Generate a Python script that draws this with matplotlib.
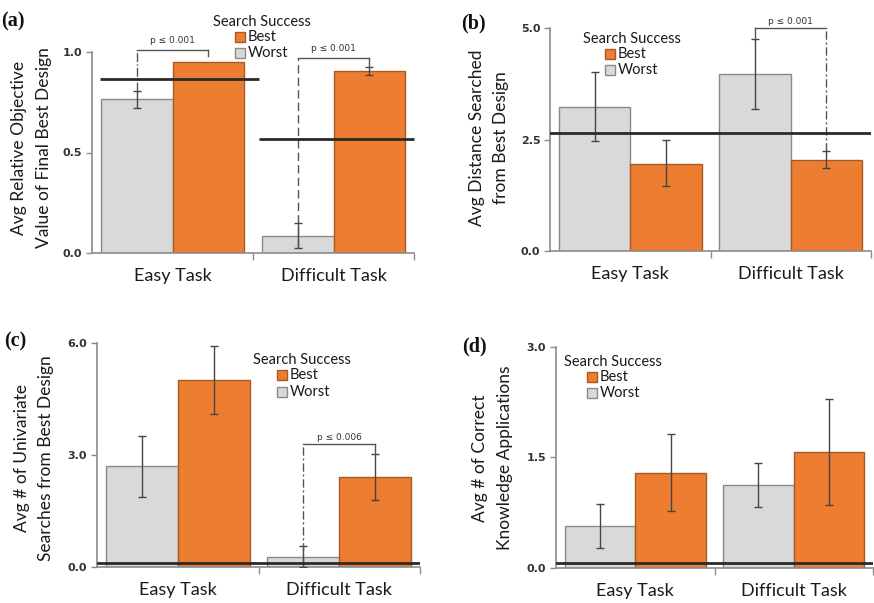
import matplotlib
matplotlib.use("Agg")
import matplotlib.pyplot as plt
from matplotlib.patches import Rectangle
import numpy as np

plt.rcParams['font.family'] = ['Lato', 'DejaVu Sans']

categories = ["Easy Task", "Difficult Task"]
series = ["Best", "Worst"]

# (a) Avg relative objective value of final best design
a_worst = [0.765, 0.086]
a_worst_lo = [0.723, 0.023]
a_worst_hi = [0.806, 0.148]
a_best = [0.952, 0.905]
a_best_lo = [0.952, 0.884]
a_best_hi = [0.952, 0.927]
a_ref = [0.866, 0.566]

# (b) Avg distance searched from best design
b_worst = [3.24, 3.97]
b_worst_lo = [2.47, 3.18]
b_worst_hi = [4.02, 4.77]
b_best = [1.96, 2.05]
b_best_lo = [1.45, 1.87]
b_best_hi = [2.49, 2.24]
b_ref = 2.64

# (c) Avg # of univariate searches from best design
c_worst = [2.71, 0.27]
c_worst_lo = [1.88, 0.0]
c_worst_hi = [3.50, 0.56]
c_best = [5.00, 2.41]
c_best_lo = [4.09, 1.80]
c_best_hi = [5.91, 3.02]
c_ref = 0.09

# (d) Avg # of correct knowledge applications
d_worst = [0.57, 1.12]
d_worst_lo = [0.27, 0.83]
d_worst_hi = [0.87, 1.42]
d_best = [1.29, 1.57]
d_best_lo = [0.77, 0.85]
d_best_hi = [1.81, 2.29]
d_ref = 0.06

W, H = 874, 603
fig = plt.figure(figsize=(W / 100, H / 100), dpi=100)

def axbox(l, r, t, b):
    return [l / W, (H - b) / H, (r - l) / W, (b - t) / H]

GRAY_FILL = '#d9d9d9'
GRAY_EDGE = '#8a8a8a'
ORANGE = '#ed7d31'
ORANGE_EDGE = '#a85a22'
ERR = '#454545'
SPINE = '#8c8c8c'
REF = '#2a2a2a'
TXT = '#1a1a1a'

bw = 0.445
centers = np.array([0.5, 1.5])


def draw_err(ax, x, v, lo, hi):
    v = np.array(v); lo = np.array(lo); hi = np.array(hi)
    keep = (hi - lo) > 0
    if keep.any():
        ax.errorbar(np.array(x)[keep], v[keep], yerr=[(v - lo)[keep], (hi - v)[keep]],
                    fmt='none', ecolor=ERR, elinewidth=1.0, capsize=3, capthick=1.0, zorder=4)


def make_panel(box, worst, wlo, whi, best, blo, bhi, ymax, yticks, ticklabels):
    ax = fig.add_axes(axbox(*box))
    ax.set_xlim(0, 2)
    ax.set_ylim(0, ymax)
    xw = centers - bw / 2
    xb = centers + bw / 2
    ax.bar(xw, worst, bw, color=GRAY_FILL, edgecolor=GRAY_EDGE, linewidth=1.0, zorder=2)
    ax.bar(xb, best, bw, color=ORANGE, edgecolor=ORANGE_EDGE, linewidth=1.0, zorder=2)
    draw_err(ax, xw, worst, wlo, whi)
    draw_err(ax, xb, best, blo, bhi)
    for s in ['top', 'right']:
        ax.spines[s].set_visible(False)
    for s in ['left', 'bottom']:
        ax.spines[s].set_color(SPINE)
        ax.spines[s].set_linewidth(1.2)
    ax.set_yticks(yticks)
    ax.set_yticklabels(ticklabels, fontsize=8, fontweight='bold', color='#333333',
                       family='DejaVu Sans')
    ax.tick_params(axis='y', length=4, color=SPINE, width=1.0, pad=3)
    ax.set_xticks([1.0, 2.0])
    ax.set_xticklabels([])
    ax.set_xticks(centers, minor=True)
    ax.set_xticklabels(categories, minor=True, fontsize=13, color=TXT)
    ax.tick_params(axis='x', which='major', length=5, color=SPINE, width=1.0, direction='out')
    ax.tick_params(axis='x', which='minor', length=0, pad=11)
    ax.patch.set_alpha(0)
    return ax


def legend(title_left, title_y, patch_x, best_y, worst_y):
    fig.text(title_left / W, 1 - title_y / H, "Search Success", fontsize=10.5,
             ha='left', va='center', color=TXT)
    for y, c, e, lab in [(best_y, ORANGE, ORANGE_EDGE, "Best"), (worst_y, GRAY_FILL, GRAY_EDGE, "Worst")]:
        fig.patches.append(Rectangle((patch_x / W, 1 - (y + 5) / H), 10 / W, 10 / H,
                                     transform=fig.transFigure, facecolor=c, edgecolor=e,
                                     linewidth=1.0))
        fig.text((patch_x + 13) / W, 1 - y / H, lab, fontsize=10.5, ha='left', va='center',
                 color=TXT)


def bracket(ax, xl, xr, ytop, yl, yr, text, ty, lsl='-', lsr='-'):
    ax.plot([xl, xr], [ytop, ytop], color='#555555', lw=1.0, clip_on=False, zorder=5)
    ax.plot([xl, xl], [yl, ytop], color='#555555', lw=1.0, ls=lsl, clip_on=False, zorder=5)
    ax.plot([xr, xr], [yr, ytop], color='#555555', lw=1.0, ls=lsr, clip_on=False, zorder=5)
    ax.text((xl + xr) / 2, ty, text, fontsize=6.5, ha='center', va='center',
            color='#333333', family='DejaVu Sans')


def ylabel(x1, x2, yc, l1, l2):
    fig.text(x1 / W, 1 - yc / H, l1, rotation=90, fontsize=12.5, ha='center', va='center',
             color=TXT)
    fig.text(x2 / W, 1 - yc / H, l2, rotation=90, fontsize=12.5, ha='center', va='center',
             color=TXT)


def plabel(x, y, t):
    fig.text(x / W, 1 - y / H, t, fontsize=14.5, fontweight='bold', family='Liberation Serif',
             ha='left', va='center', color='#111111')

# ---- (a)
axa = make_panel((92, 414, 52, 253), a_worst, a_worst_lo, a_worst_hi, a_best, a_best_lo,
                 a_best_hi, 1.0, [0, 0.5, 1.0], ["0.0", "0.5", "1.0"])
axa.plot([0.05, 1.04], [a_ref[0], a_ref[0]], color=REF, lw=2.0, zorder=6, solid_capstyle='butt')
axa.plot([1.04, 2.0], [a_ref[1], a_ref[1]], color=REF, lw=2.0, zorder=6, clip_on=False,
         solid_capstyle='butt')
bracket(axa, 0.2775, 0.7225, 1.011, a_worst_hi[0], 0.98, "p ≤ 0.001", 1.058, lsl='-.')
bracket(axa, 1.2775, 1.7225, 0.969, a_worst_lo[1], a_best_hi[1], "p ≤ 0.001", 1.015,
        lsl=(0, (6, 3)))
legend(213, 22, 235, 37, 53)
ylabel(19, 44, 148, "Avg Relative Objective", "Value of Final Best Design")
plabel(1, 21, "(a)")

# ---- (b)
axb = make_panel((550, 871, 28.3, 250.7), b_worst, b_worst_lo, b_worst_hi, b_best, b_best_lo,
                 b_best_hi, 5.0, [0, 2.5, 5.0], ["0.0", "2.5", "5.0"])
axb.axhline(b_ref, color=REF, lw=2.0, zorder=6)
bracket(axb, 1.2775, 1.7225, 5.0, b_worst_hi[1], b_best_hi[1], "p ≤ 0.001", 5.15,
        lsr=(0, (6, 2, 1.5, 2)))
legend(583, 39, 605, 54, 70)
ylabel(477, 501, 138, "Avg Distance Searched", "from Best Design")
plabel(461, 23, "(b)")

# ---- (c)
axc = make_panel((97, 420, 342.7, 566.7), c_worst, c_worst_lo, c_worst_hi, c_best, c_best_lo,
                 c_best_hi, 6.0, [0, 3.0, 6.0], ["0.0", "3.0", "6.0"])
axc.axhline(c_ref, color=REF, lw=2.0, zorder=6)
bracket(axc, 1.2775, 1.7225, 3.29, 0.0, c_best_hi[1], "p ≤ 0.006", 3.47, lsl=(0, (6, 2, 1.5, 2)))
legend(253, 360, 277, 375, 392)
ylabel(22, 46, 458, "Avg # of Univariate", "Searches from Best Design")
plabel(4, 341, "(c)")

# ---- (d)
axd = make_panel((556, 873, 346.7, 567.7), d_worst, d_worst_lo, d_worst_hi, d_best, d_best_lo,
                 d_best_hi, 3.0, [0, 1.5, 3.0], ["0.0", "1.5", "3.0"])
axd.axhline(d_ref, color=REF, lw=2.0, zorder=6)
legend(564, 362, 587, 377, 393)
ylabel(480, 505, 458, "Avg # of Correct", "Knowledge Applications")
plabel(462, 346, "(d)")

fig.savefig("out.png", dpi=100, facecolor='white')
